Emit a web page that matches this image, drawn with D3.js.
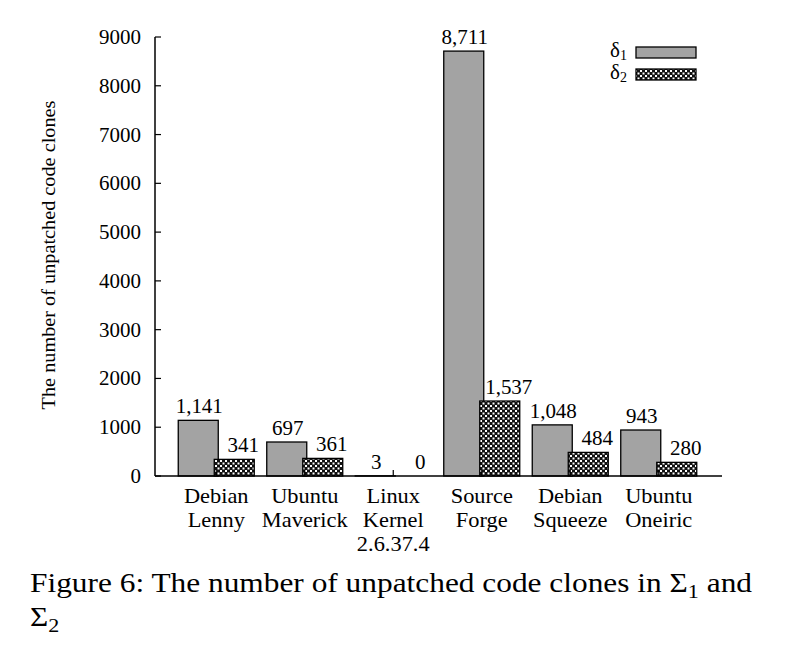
<!DOCTYPE html>
<html><head><meta charset="utf-8">
<script src="https://cdn.jsdelivr.net/npm/d3@7"></script>
<style>
body{margin:0;background:#fff;}
svg text{font-family:"Liberation Serif","Times New Roman",serif;fill:#000;}
</style></head>
<body>
<svg id="chart" width="793" height="658"></svg>
<script>
const categories = [["Debian","Lenny"],["Ubuntu","Maverick"],["Linux","Kernel","2.6.37.4"],["Source","Forge"],["Debian","Squeeze"],["Ubuntu","Oneiric"]];
const delta1 = [1141, 697, 3, 8711, 1048, 943];
const delta2 = [341, 361, 0, 1537, 484, 280];
const yTicks = [0,1000,2000,3000,4000,5000,6000,7000,8000,9000];
const seriesNames = ["δ1","δ2"];

const svg = d3.select("#chart");
const defs = svg.append("defs");
const pat = defs.append("pattern").attr("id","checker").attr("patternUnits","userSpaceOnUse")
  .attr("width",5).attr("height",5);
pat.append("rect").attr("width",5).attr("height",5).attr("fill","#111");
pat.append("rect").attr("x",0).attr("y",0).attr("width",2).attr("height",2).attr("fill","#fff");
pat.append("rect").attr("x",2.5).attr("y",2.5).attr("width",2).attr("height",2).attr("fill","#fff");

const x0 = 155, x1 = 722, yBase = 476, yTop = 37;
const idx = categories.map((d,i)=>i);
const x = d3.scaleBand().domain(idx).range([172, 703]);
const y = d3.scaleLinear().domain([0,9000]).range([yBase, yTop]);
const bw = 40;
const gray = "#a3a3a3";

svg.append("g").selectAll("rect").data(delta1).join("rect")
  .attr("x",(d,i)=>x(i)+x.bandwidth()/2-38)
  .attr("y",d=>y(d)).attr("width",bw).attr("height",d=>yBase-y(d))
  .attr("fill",gray).attr("stroke","#000").attr("stroke-width",1.3);
svg.append("g").selectAll("rect").data(delta2).join("rect")
  .attr("x",(d,i)=>x(i)+x.bandwidth()/2-2)
  .attr("y",d=>y(d)).attr("width",bw).attr("height",d=>yBase-y(d))
  .attr("fill","url(#checker)").attr("stroke","#000").attr("stroke-width",1.3);

const fmt = d3.format(",");
function stretched(sel, sx){
  sel.attr("transform",function(){
    const t=d3.select(this); const xx=+t.attr("data-x"), yy=+t.attr("data-y");
    return `translate(${xx},${yy}) scale(${sx},1)`;
  });
}
svg.append("g").selectAll("text").data(delta1).join("text")
  .attr("data-x",(d,i)=>x(i)+x.bandwidth()/2-17)
  .attr("data-y",d=>y(d)-7).attr("text-anchor","middle").attr("font-size",20)
  .text(d=>fmt(d)).call(stretched,1.05);
svg.append("g").selectAll("text").data(delta2).join("text")
  .attr("data-x",(d,i)=>x(i)+x.bandwidth()/2+27)
  .attr("data-y",d=>y(d)-7).attr("text-anchor","middle").attr("font-size",20)
  .text(d=>fmt(d)).call(stretched,1.05);

const ax = svg.append("g");
ax.append("line").attr("x1",x0).attr("x2",x0).attr("y1",yBase).attr("y2",yTop).attr("stroke","#000").attr("stroke-width",1.5);
ax.append("line").attr("x1",x0).attr("x2",x1).attr("y1",yBase).attr("y2",yBase).attr("stroke","#000").attr("stroke-width",1.5);
ax.selectAll(".yt").data(yTicks).join("line").attr("class","yt")
  .attr("x1",x0).attr("x2",x0+6).attr("y1",d=>y(d)).attr("y2",d=>y(d)).attr("stroke","#000").attr("stroke-width",1.2);
ax.selectAll(".yl").data(yTicks).join("text").attr("class","yl")
  .attr("data-x",141).attr("data-y",d=>y(d)).attr("dy","0.35em").attr("text-anchor","end").attr("font-size",20)
  .text(d=>d).call(stretched,1.05);
ax.selectAll(".xt").data(idx).join("line").attr("class","xt")
  .attr("x1",d=>x(d)+x.bandwidth()/2).attr("x2",d=>x(d)+x.bandwidth()/2)
  .attr("y1",yBase).attr("y2",yBase-6).attr("stroke","#000").attr("stroke-width",1.2);
const cl = ax.selectAll(".xl").data(categories).join("text").attr("class","xl")
  .attr("text-anchor","middle").attr("font-size",20)
  .attr("transform",(d,i)=>`translate(${x(i)+x.bandwidth()/2},503) scale(1.12,1)`);
cl.each(function(d){
  const t = d3.select(this);
  d.forEach((s,j)=>t.append("tspan").attr("x",0).attr("y",j*24).text(s));
});

svg.append("text").attr("transform","translate(55,255) rotate(-90) scale(1.04,1)")
  .attr("text-anchor","middle").attr("font-size",19.5).text("The number of unpatched code clones");

const lg = svg.append("g");
[0,1].forEach(k=>{
  const ly = 52 + k*22;
  const t = lg.append("text").attr("x",627).attr("y",ly+5).attr("text-anchor","end").attr("font-size",21);
  t.append("tspan").text(seriesNames[k][0]);
  t.append("tspan").attr("dy",3).attr("font-size",14).text(seriesNames[k][1]);
  lg.append("rect").attr("x",636).attr("y",ly-5).attr("width",60).attr("height",11)
    .attr("fill",k===0?gray:"url(#checker)").attr("stroke","#000").attr("stroke-width",1.3);
});

const cap = svg.append("text").attr("x",30).attr("y",592).attr("font-size",27)
  .attr("textLength",722).attr("lengthAdjust","spacingAndGlyphs");
cap.append("tspan").text("Figure 6: The number of unpatched code clones in Σ");
cap.append("tspan").attr("dy",6).attr("font-size",19).text("1");
cap.append("tspan").attr("dy",-6).text(" and");
const cap2 = svg.append("text").attr("transform","translate(30,626) scale(1.16,1)").attr("font-size",27);
cap2.append("tspan").text("Σ");
cap2.append("tspan").attr("dy",6).attr("font-size",19).text("2");
</script>
</body></html>
